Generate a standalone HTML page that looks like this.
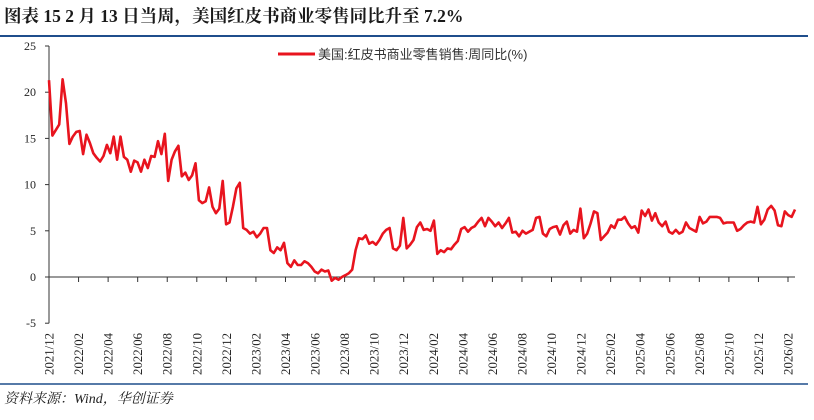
<!DOCTYPE html>
<html><head><meta charset="utf-8"><style>
body{margin:0;width:814px;height:415px;background:#fff;overflow:hidden;font-family:"Liberation Serif","Noto Serif CJK SC",serif}
</style></head><body>
<svg width="814" height="415" xmlns="http://www.w3.org/2000/svg">
<text x="4" y="22" font-size="17.5" font-weight="bold" fill="#1a1a1a" font-family="Liberation Serif,Noto Serif CJK SC,serif">图表 15  2 月 13 日当周，美国红皮书商业零售同比升至 7.2%</text>
<line x1="0" y1="36" x2="808" y2="36" stroke="#1f4e8c" stroke-width="2"/>
<line x1="0" y1="384" x2="808" y2="384" stroke="#1f4e8c" stroke-width="1.5"/>
<text x="4" y="403" font-size="14" font-style="italic" fill="#222" font-family="Liberation Serif,Noto Serif CJK SC,serif">资料来源：Wind，华创证券</text>
<g id="axes"></g>
<g id="series"></g>
<g>
<line x1="278" y1="54" x2="315" y2="54" stroke="#e8141e" stroke-width="3"/>
<text x="318" y="59" font-size="13" fill="#333" font-family="Liberation Sans,Noto Sans CJK SC,sans-serif">美国:红皮书商业零售销售:周同比(%)</text>
</g>
</svg>
<script>
const yTicks=[25,20,15,10,5,0,-5];
const xLabels=["2021/12","2022/02","2022/04","2022/06","2022/08","2022/10","2022/12","2023/02","2023/04","2023/06","2023/08","2023/10","2023/12","2024/02","2024/04","2024/06","2024/08","2024/10","2024/12","2025/02","2025/04","2025/06","2025/08","2025/10","2025/12","2026/02"];
const values=[21.3,15.3,15.9,16.5,21.4,18.8,14.4,15.2,15.7,15.8,13.3,15.4,14.5,13.4,12.9,12.5,13.1,14.3,13.4,15.2,12.7,15.2,13.0,12.7,11.4,12.6,12.4,11.4,12.7,11.8,13.1,13.0,14.7,13.3,15.5,10.4,12.7,13.6,14.2,10.9,11.3,10.5,11.0,12.3,8.3,8.0,8.2,9.7,7.6,6.9,7.4,10.4,5.7,5.9,7.6,9.6,10.2,5.3,5.1,4.7,4.9,4.3,4.7,5.3,5.3,2.9,2.6,3.2,2.9,3.7,1.5,1.1,1.8,1.3,1.3,1.7,1.5,1.1,0.6,0.4,0.8,0.6,0.7,-0.4,-0.1,-0.3,0.0,0.2,0.4,0.8,2.9,4.2,4.1,4.5,3.6,3.8,3.5,4.0,4.7,5.1,5.3,3.1,2.9,3.4,6.4,3.1,3.5,4.0,5.4,5.9,5.1,5.2,5.0,6.1,2.5,2.9,2.7,3.1,3.0,3.5,3.9,5.2,5.4,4.9,5.3,5.5,6.0,6.4,5.5,6.4,6.0,5.5,5.9,5.3,5.8,6.4,4.8,4.9,4.4,5.0,4.7,4.9,5.1,6.4,6.5,4.7,4.4,5.2,5.4,5.5,4.6,5.6,6.0,4.7,5.1,4.9,7.4,4.2,4.7,5.8,7.1,6.9,4.0,4.4,4.8,5.6,5.3,6.2,6.2,6.5,5.8,5.3,5.5,4.8,7.2,6.6,7.3,6.1,6.9,5.9,5.5,6.0,4.9,4.7,5.1,4.7,4.9,5.9,5.3,5.1,4.9,6.5,5.8,6.0,6.5,6.5,6.5,6.4,5.8,5.9,5.9,5.9,5.0,5.2,5.6,5.9,6.0,5.9,7.6,5.7,6.2,7.3,7.7,7.2,5.6,5.5,7.1,6.7,6.5,7.3];
const NS="http://www.w3.org/2000/svg";
const X0=49,X1=795,yPx=277,unit=9.24;
const yS=v=>yPx-v*unit;
const xS=i=>X0+(X1-X0)*i/(values.length-1);
const tickX=k=>X0+k*(788-X0)/(xLabels.length-1);
const ax=document.getElementById('axes');
function mk(t,a,p){const e=document.createElementNS(NS,t);for(const k in a)e.setAttribute(k,a[k]);p.appendChild(e);return e;}
let l=mk('line',{x1:X0,y1:yS(25),x2:X0,y2:yS(-5),stroke:'#333','stroke-width':1},ax);


l=mk('line',{x1:X0,y1:yS(0),x2:X1,y2:yS(0),stroke:'#333','stroke-width':1},ax);


yTicks.forEach(v=>{
 const t=mk('line',{x1:X0-4,y1:yS(v),x2:X0,y2:yS(v),stroke:'#333'},ax);
 
 
 const tx=mk('text',{x:X0-13,y:yS(v)+4,'font-size':12,'text-anchor':'end',fill:'#222'},ax);
 tx.textContent=v;
 
 
});
xLabels.forEach((s,k)=>{
 const x=tickX(k);
 const t=mk('line',{x1:x,y1:yS(0),x2:x,y2:yS(0)+5,stroke:'#333'},ax);
 
 
 const tx=mk('text',{x:0,y:0,'font-size':12.8,'text-anchor':'end',fill:'#222',transform:`translate(${x+4.5},333) rotate(-90)`},ax);
 tx.textContent=s;
 
 
});
const p=mk('polyline',{points:values.map((v,i)=>xS(i).toFixed(1)+','+yS(v).toFixed(1)).join(' '),fill:'none',stroke:'#e8141e','stroke-width':2.6,'stroke-linejoin':'round'},document.getElementById('series'));


</script>
</body></html>
